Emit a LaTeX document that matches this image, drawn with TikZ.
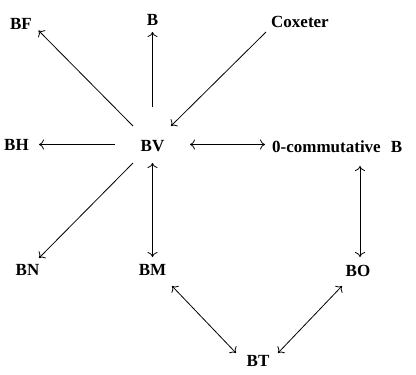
\documentclass[tikz,border=0pt]{standalone}
\usepackage{fontspec}
\setmainfont{Liberation Serif}
\usetikzlibrary{arrows.meta}
\begin{document}
\begin{tikzpicture}[x=1pt,y=-1pt,
  >={Computer Modern Rightarrow[length=5pt,width=10pt,line width=0.8pt]},
  lbl/.style={inner sep=0pt,anchor=base,font=\fontsize{17}{20}\selectfont\bfseries},
  arr/.style={line width=0.8pt,->},
  darr/.style={line width=0.8pt,<->}]
\useasboundingbox (0,0) rectangle (416,375);
\node[lbl] (BF) at (21,29) {BF};
\node[lbl] (B) at (152.5,25) {B};
\node[lbl] (Cox) at (300,27) {Coxeter};
\node[lbl] (BH) at (16.5,150) {BH};
\node[lbl] (BV) at (152.5,151) {BV};
\node[lbl,anchor=base west] (OC) at (272,152) {0-commutative\hspace{0.6em}B};
\node[lbl] (BN) at (27.5,275) {BN};
\node[lbl] (BM) at (152.5,275) {BM};
\node[lbl] (BO) at (358,276) {BO};
\node[lbl] (BT) at (258,366) {BT};
\draw[arr] ([shift={(-19.5,-25)}]BV.base) -- ([shift={(17.5,1.5)}]BF.base);
\draw[arr] ([shift={(0,-44)}]BV.base) -- ([shift={(0,7)}]B.base);
\draw[arr] ([shift={(-34,5)}]Cox.base) -- ([shift={(18.5,-25)}]BV.base);
\draw[arr] ([shift={(-37.5,-6.5)}]BV.base) -- ([shift={(22.5,-5.5)}]BH.base);
\draw[darr] ([shift={(37.5,-6.5)}]BV.base) -- ([shift={(-7,-7.5)}]OC.base west);
\draw[arr] ([shift={(-19.5,12)}]BV.base) -- ([shift={(11.5,-17)}]BN.base);
\draw[darr] ([shift={(0,12)}]BV.base) -- ([shift={(0,-18)}]BM.base);
\draw[darr] ([shift={(88,14)}]OC.base west) -- ([shift={(2,-19)}]BO.base);
\draw[darr] ([shift={(19.5,11)}]BM.base) -- ([shift={(-22,-13)}]BT.base);
\draw[darr] ([shift={(-16,10)}]BO.base) -- ([shift={(20,-13)}]BT.base);
\end{tikzpicture}
\end{document}
